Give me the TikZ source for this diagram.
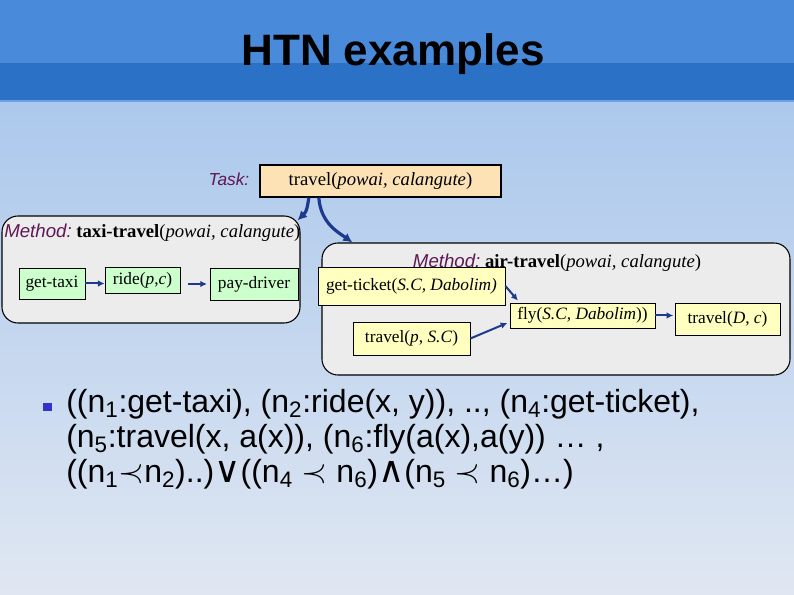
\documentclass[tikz,border=0pt]{standalone}
\usepackage{fontspec}
\setmainfont{Liberation Serif}
\setsansfont{Liberation Sans}
\newfontfamily\opsfont{DejaVu Serif}
\usetikzlibrary{calc,arrows.meta}
\definecolor{hdrtop}{RGB}{74,138,218}
\definecolor{hdrbot}{RGB}{43,114,198}
\definecolor{hdrline}{RGB}{110,160,226}
\definecolor{bgtop}{RGB}{171,200,236}
\definecolor{bgbot}{RGB}{224,231,242}
\definecolor{methgray}{RGB}{236,236,236}
\definecolor{taskfill}{RGB}{253,226,182}
\definecolor{stepgreen}{RGB}{204,255,204}
\definecolor{stepyellow}{RGB}{255,255,192}
\definecolor{navy}{RGB}{30,58,140}
\definecolor{plum}{RGB}{96,24,84}
\definecolor{bulletblue}{RGB}{51,51,204}
\newcommand{\methlbl}{\textcolor{plum}{\sffamily\itshape Method:}}
\begin{document}
\begin{tikzpicture}[x=0.75pt,y=-0.75pt,
	methbox/.style={draw=black,line width=0.8pt,fill=methgray,rounded corners=12pt,inner sep=0pt},
	prim/.style={draw=black,line width=0.6pt,inner sep=0pt,font=\fontsize{13}{15}\selectfont},
	link/.style={navy,line width=1.5pt,-{Latex[length=5pt,width=5pt]}},
	expand/.style={navy,line width=2.4pt,-{Latex[length=7pt,width=7pt]}},
	lbl/.style={font=\fontsize{14}{16}\selectfont,inner sep=0pt},
	bullet/.style={font=\sffamily\fontsize{24}{26.6}\selectfont,align=left,inner sep=0pt}]
	\useasboundingbox (0,0) rectangle (794,595);
	% slide background
	\shade[top color=bgtop,bottom color=bgbot] (0,100) rectangle (794,595);
	\fill[hdrtop] (0,0) rectangle (794,63);
	\fill[hdrbot] (0,63) rectangle (794,100);
	\fill[hdrline] (0,100) rectangle (794,102);
	\node[font=\sffamily\bfseries\fontsize{33}{36}\selectfont,anchor=base] (title) at (393,66) {HTN examples};

	% task
	\node[draw=black,line width=0.8pt,fill=taskfill,minimum width=180.75pt,minimum height=24pt,lbl] (task) at (380.5,181) {travel(\textit{powai, calangute})};
	\node[anchor=east,text=plum,font=\sffamily\itshape\fontsize{13}{15}\selectfont] (tasklbl) at (254,179) {Task:};

	% taxi method
	\node[methbox,minimum width=223.5pt,minimum height=80.25pt] (taxim) at (151,269.5) {};
	\node[lbl,anchor=west] (taxilbl) at (4,233) {\methlbl\ \textbf{taxi-travel}(\textit{powai, calangute})};
	\node[prim,fill=stepgreen,minimum width=49.5pt,minimum height=23.25pt] (gtaxi) at (52,283.5) {get-taxi};
	\node[prim,fill=stepgreen,minimum width=56.25pt,minimum height=19.5pt] (ride) at (142.5,280) {ride(\textit{p},\textit{c})};
	\node[prim,fill=stepgreen,minimum width=66pt,minimum height=24pt] (pay) at (254,284) {pay-driver};
	\draw[link] (gtaxi.east) -- (gtaxi.east -| ride.west);
	\draw[link,shorten <=6pt,shorten >=2pt] (pay.west -| ride.east) -- (pay.west);

	% air method
	\node[methbox,minimum width=351pt,minimum height=99pt] (airm) at (556,309) {};
	\node[prim,fill=stepyellow,minimum width=140.25pt,minimum height=28.5pt] (gt) at (411.5,286) {get-ticket(\textit{S.C, Dabolim)}};
	\node[prim,fill=stepyellow,minimum width=108.75pt,minimum height=18.75pt] (fly) at (582.5,315.5) {fly(\textit{S.C, Dabolim}))};
	\node[prim,fill=stepyellow,minimum width=78.75pt,minimum height=24pt] (tD) at (727.5,319) {travel(\textit{D}, \textit{c})};
	\node[prim,fill=stepyellow,minimum width=87.75pt,minimum height=24.75pt] (tp) at (411.5,338.5) {travel(\textit{p}, \textit{S.C})};
	\node[lbl] (airlbl) at (557,263) {\methlbl\ \textbf{air-travel}(\textit{powai, calangute})};
	\draw[link,shorten >=2pt] (gt.east) -- ($(fly.north west)+(10,0)$);
	\draw[link,shorten >=1pt] (tp.east) -- ($(fly.south west)+(-1,-6)$);
	\draw[link,shorten >=1pt] (fly.east) -- (fly.east -| tD.west);

	% decomposition arrows
	\draw[expand] (task.193) .. controls +(-2,14) and +(8,-8) .. ($(taxim.north east)+(-3,5)$);
	\draw[expand] (task.195.5) .. controls +(2,26) and +(-14,-10) .. ($(airm.north west)+(31,0)$);

	% bullet text
	\node[fill=bulletblue,minimum size=6.5pt,inner sep=0pt] (bul) at (47.5,407) {};
	\node[bullet,anchor=base west] (ordering) at (66,483) {((n\textsubscript{1}:get-taxi), (n\textsubscript{2}:ride(x, y)), .., (n\textsubscript{4}:get-ticket),\\
		(n\textsubscript{5}:travel(x, a(x)), (n\textsubscript{6}:fly(a(x),a(y)) … ,\\
		((n\textsubscript{1}$\prec$n\textsubscript{2})..){\opsfont\fontsize{27}{27}\selectfont ∨}((n\textsubscript{4} $\prec$ n\textsubscript{6}){\opsfont\fontsize{27}{27}\selectfont ∧}(n\textsubscript{5} $\prec$ n\textsubscript{6})…)};
\end{tikzpicture}
\end{document}
